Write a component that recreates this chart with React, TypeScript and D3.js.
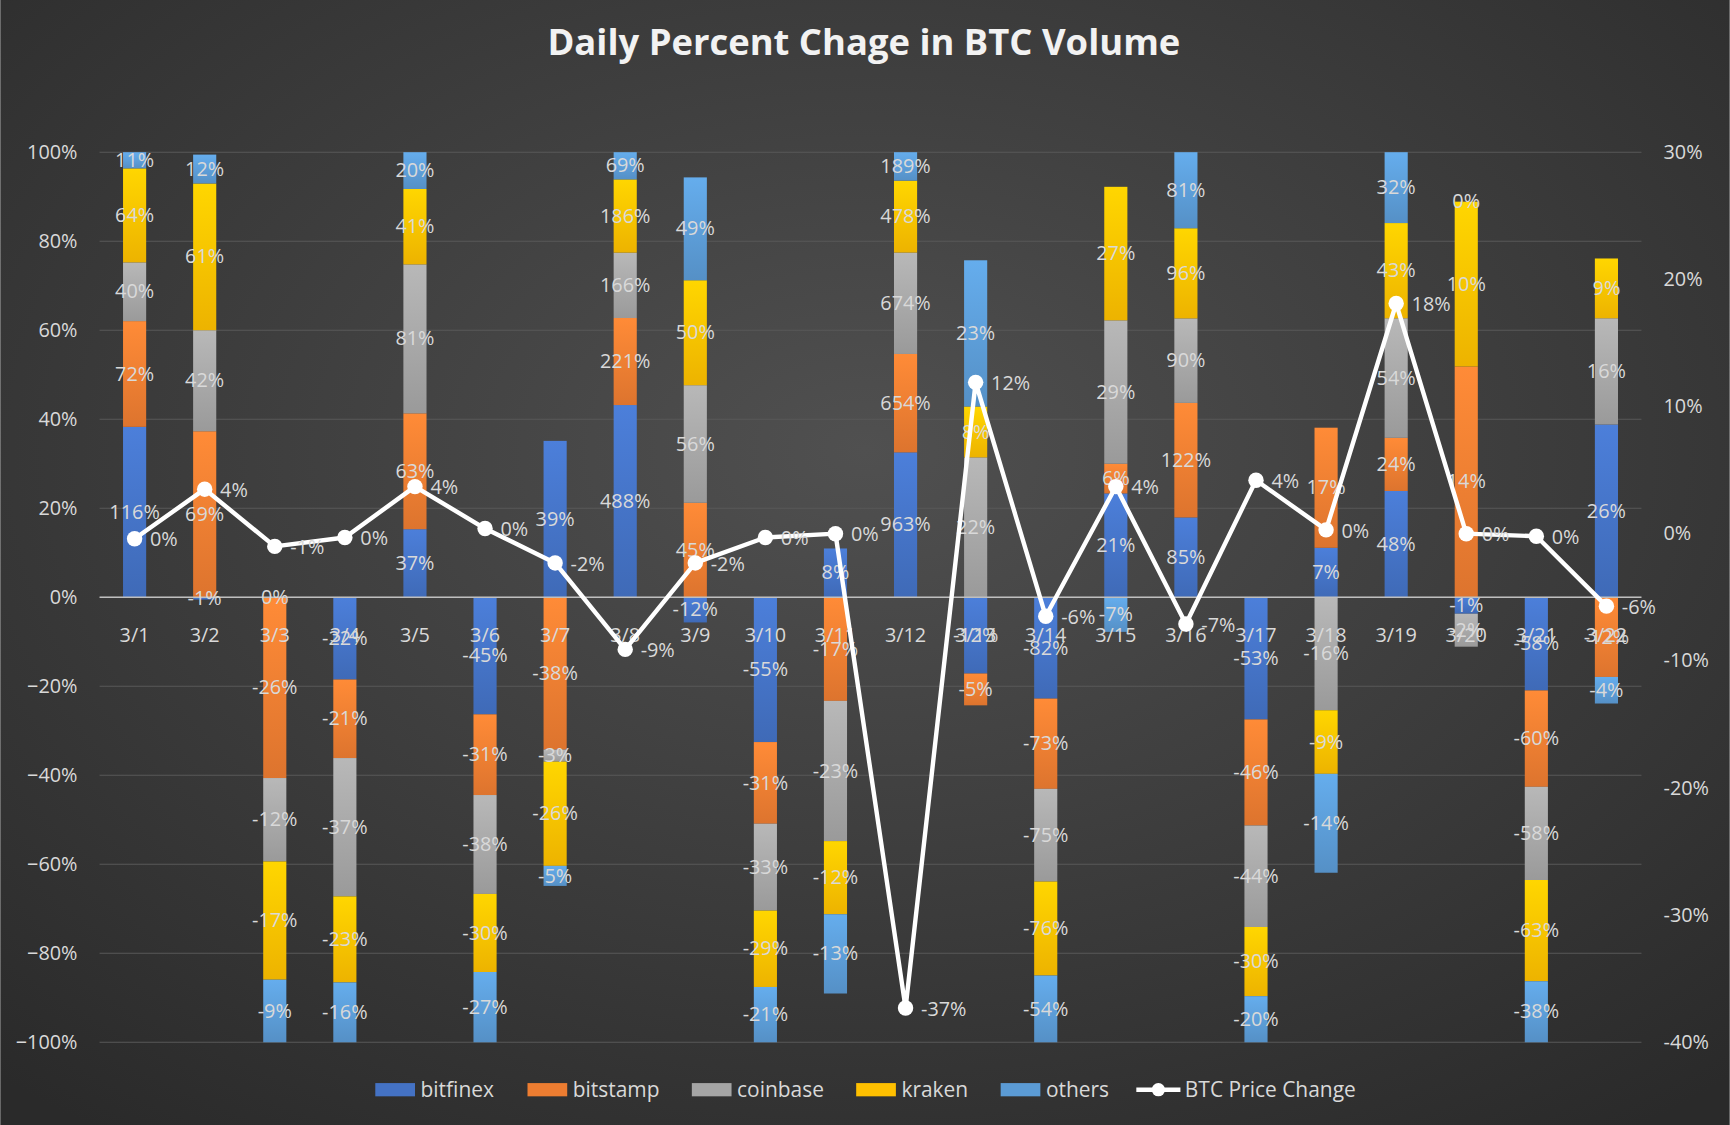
import React from "react";
import * as d3 from "d3";

const dates = ["3/1","3/2","3/3","3/4","3/5","3/6","3/7","3/8","3/9","3/10","3/11","3/12","3/13","3/14","3/15","3/16","3/17","3/18","3/19","3/20","3/21","3/22"];
const bitfinex = [116,-1,0,-22,37,-45,39,488,-12,-55,8,963,-12,-82,21,85,-53,7,48,-1,-58,26];
const bitstamp = [72,69,-26,-21,63,-31,-38,221,45,-31,-17,654,-5,-73,6,122,-46,17,24,14,-60,-12];
const coinbase = [40,42,-12,-37,81,-38,-3,166,56,-33,-23,674,22,-75,29,90,-44,-16,54,-2,-58,16];
const kraken = [64,61,-17,-23,41,-30,-26,186,50,-29,-12,478,8,-76,27,96,-30,-9,43,10,-63,9];
const others = [11,12,-9,-16,20,-27,-5,69,49,-21,-13,189,23,-54,-7,81,-20,-14,32,0,-38,-4];
const priceChange = [-0.4,3.5,-1,-0.3,3.7,0.4,-2.3,-9.1,-2.3,-0.3,0,-37.3,11.9,-6.5,3.7,-7.1,4.2,0.3,18.1,0,-0.2,-5.7];
const seriesNames = ["bitfinex","bitstamp","coinbase","kraken","others"];
const seriesData = [bitfinex, bitstamp, coinbase, kraken, others];
const colors = ["#4472C4","#ED7D31","#A5A5A5","#FFC000","#5B9BD5"];
const leftTicks = [-1,-0.8,-0.6,-0.4,-0.2,0,0.2,0.4,0.6,0.8,1];
const rightTicks = [-40,-30,-20,-10,0,10,20,30];

export default function App() {
  const W = 1568, H = 1020;
  const x = d3.scaleBand().domain(dates).range([90, 1488]).paddingInner(0.67).paddingOuter(0.335);
  const y = d3.scaleLinear().domain([-1, 1]).range([945, 138]);
  const y2 = d3.scaleLinear().domain([-40, 30]).range([945, 138]);
  const pct = d3.format(".0%");
  const txt = "#d9d9d9";
  const font = "'Open Sans', 'Liberation Sans', sans-serif";

  const segs: any[] = [];
  dates.forEach((d, i) => {
    const tot = d3.sum(seriesData, s => Math.abs(s[i]));
    let pos = 0, neg = 0;
    seriesData.forEach((s, k) => {
      const v = s[i] / tot;
      let y0, y1;
      if (v >= 0) { y0 = pos; y1 = pos + v; pos = y1; } else { y0 = neg; y1 = neg + v; neg = y1; }
      segs.push({ d, k, y0, y1, raw: s[i] });
    });
  });
  const cx = (d: string) => (x(d) as number) + x.bandwidth() / 2;
  const line = d3.line<number>().x((_, i) => cx(dates[i])).y(v => y2(v));

  return (
    <svg width={1730} height={1125} viewBox={`0 0 ${W} ${H}`} style={{ display: "block", position: "absolute", left: 0, top: 0 }}>
      <defs>
        <radialGradient id="bg" cx="50%" cy="40%" r="75%">
          <stop offset="0%" stopColor="#505050" />
          <stop offset="100%" stopColor="#2a2a2a" />
        </radialGradient>
        {colors.map((c, k) => (
          <linearGradient key={k} id={"g" + k} x1="0" y1="0" x2="0" y2="1">
            <stop offset="0%" stopColor={d3.color(c)!.brighter(0.3).toString()} />
            <stop offset="100%" stopColor={d3.color(c)!.darker(0.2).toString()} />
          </linearGradient>
        ))}
      </defs>
      <rect width={W} height={H} fill="url(#bg)" />
      <text x={783} y={50} textAnchor="middle" fill="#f2f2f2" fontSize={33} fontWeight="bold" fontFamily={font}>Daily Percent Chage in BTC Volume</text>
      {leftTicks.map(t => (
        <g key={t}>
          <line x1={90} x2={1488} y1={y(t)} y2={y(t)} stroke="#595959" strokeWidth={1} />
          <text x={70} y={y(t) + 6} textAnchor="end" fill={txt} fontSize={18} fontFamily={font}>{pct(t)}</text>
        </g>
      ))}
      {rightTicks.map(t => (
        <text key={t} x={1508} y={y2(t) + 6} fill={txt} fontSize={18} fontFamily={font}>{t + "%"}</text>
      ))}
      {segs.map((s, i) => (
        <rect key={i} x={x(s.d)} width={x.bandwidth()} y={y(Math.max(s.y0, s.y1))} height={Math.abs(y(s.y0) - y(s.y1))} fill={`url(#g${s.k})`} />
      ))}
      <line x1={90} x2={1488} y1={y(0)} y2={y(0)} stroke="#bfbfbf" strokeWidth={1.5} />
      {dates.map(d => (
        <text key={d} x={cx(d)} y={582} textAnchor="middle" fill={txt} fontSize={18} fontFamily={font}>{d}</text>
      ))}
      {segs.map((s, i) => (
        <text key={"t" + i} x={cx(s.d)} y={y((s.y0 + s.y1) / 2) + 6} textAnchor="middle" fill={txt} fontSize={18} fontFamily={font}>{s.raw + "%"}</text>
      ))}
      <path d={line(priceChange) || ""} fill="none" stroke="#ffffff" strokeWidth={4} strokeLinejoin="round" />
      {priceChange.map((v, i) => (
        <g key={i}>
          <circle cx={cx(dates[i])} cy={y2(v)} r={7} fill="#ffffff" />
          <text x={cx(dates[i]) + 14} y={y2(v) + 7} fill={txt} fontSize={18} fontFamily={font}>{Math.round(v) === 0 ? "0%" : Math.round(v) + "%"}</text>
        </g>
      ))}
      {seriesNames.map((n, k) => (
        <g key={n} transform={`translate(${[340, 478, 627, 776, 907][k]},988)`}>
          <rect x={0} y={-6} width={36} height={12} fill={colors[k]} />
          <text x={41} y={7} fill={txt} fontSize={19} fontFamily={font}>{n}</text>
        </g>
      ))}
      <g transform="translate(1030,988)">
        <line x1={0} x2={40} y1={0} y2={0} stroke="#fff" strokeWidth={4} />
        <circle cx={20} cy={0} r={6} fill="#fff" />
        <text x={44} y={7} fill={txt} fontSize={19} fontFamily={font}>BTC Price Change</text>
      </g>
    </svg>
  );
}
